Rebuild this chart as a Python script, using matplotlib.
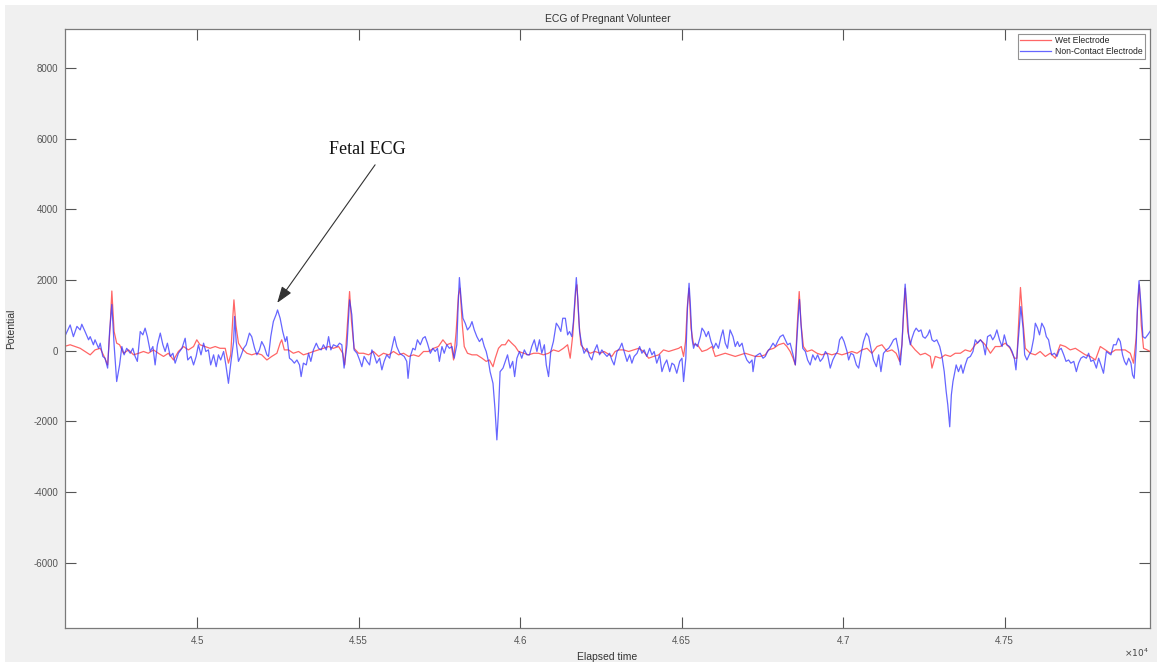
import matplotlib
matplotlib.use("Agg")
import matplotlib.pyplot as plt
from matplotlib.patches import Rectangle

plt.rcParams['axes.unicode_minus'] = False
plt.rcParams['font.family'] = ['Liberation Sans', 'DejaVu Sans']

# ---------------- data ----------------
wet_t = [44588, 44607, 44622, 44638, 44653, 44669, 44684, 44700, 44712, 44723, 44731, 44736, 44743, 44751, 44760,
         44772, 44788, 44803, 44819, 44834, 44849, 44865, 44880, 44896, 44911, 44927, 44942, 44958, 44973, 44989,
         44999, 45009, 45025, 45040, 45056, 45071, 45087, 45097, 45104, 45111, 45114, 45120, 45128, 45138, 45154,
         45169, 45185, 45200, 45216, 45231, 45247, 45257, 45262, 45270, 45283, 45298, 45314, 45329, 45345, 45360,
         45376, 45391, 45407, 45422,
         45438, 45451, 45457, 45466, 45472, 45478, 45486, 45500, 45515, 45531, 45546, 45562, 45577, 45593, 45608,
         45624, 45639, 45655, 45670, 45686, 45701, 45716, 45732, 45747, 45761, 45773, 45786, 45794, 45802, 45809,
         45814, 45821, 45827, 45837, 45851, 45866, 45882, 45895, 45905, 45916, 45923, 45933, 45943, 45954, 45964,
         45974, 45985, 45995, 46011, 46026, 46042, 46057, 46072, 46088, 46103, 46119, 46134, 46147, 46155, 46163,
         46172, 46176, 46182, 46188, 46201, 46217, 46232, 46248, 46260,
         46269, 46284, 46294, 46305, 46320, 46336, 46351, 46367, 46382, 46398, 46413, 46429, 46444, 46460, 46475,
         46491, 46499, 46506, 46512, 46518, 46523, 46529, 46537, 46549, 46563, 46578, 46594, 46604, 46620, 46635,
         46650, 46666, 46681, 46697, 46712, 46728, 46743, 46759, 46769, 46785, 46800, 46816, 46826, 46836, 46845,
         46852, 46858, 46864, 46870, 46877, 46888, 46903, 46919, 46934, 46950, 46965, 46981, 46996, 47012, 47027,
         47043, 47058, 47074, 47089,
         47105, 47120, 47136, 47151, 47164, 47175, 47182, 47187, 47192, 47200, 47210, 47223, 47239, 47254, 47270,
         47275, 47285, 47301, 47316, 47332, 47347, 47363, 47378, 47394, 47409, 47425, 47440, 47456, 47471, 47486,
         47502, 47517, 47530, 47538, 47544, 47549, 47556, 47564, 47579, 47595, 47610, 47626, 47641, 47657, 47672,
         47688, 47703, 47719, 47734, 47750, 47765, 47781, 47796, 47812, 47827, 47843, 47858, 47873, 47889, 47899,
         47907, 47913, 47917, 47923, 47930, 47941, 47951]
wet_v = [120, 170, 120, 70, -20, -115, 25, 70, -160, -400, 730, 1690, 545, 215, 170,
         -70, 25, -115, -70, -20, -70, 25, -70, -160, -70, -260, -20, 120, 25, 120,
         310, 170, 120, 70, 120, 70, 70, -350, -115, 1015, 1440, 730, 215, 70, -70,
         -115, -70, -115, -260, -160, -70, 215, 310, 25, 25, -70, -20, -115, -70, -20,
         25, 70, 120, 70,
         120, -70, -400, 825, 1675, 825, 70, -70, -70, -115, -20, -160, -70, -115, -20,
         -115, -70, -160, -115, -160, -20, -20, 70, 120, 310, 170, 215, -260, 545, 1580,
         1770, 730, 120, -70, -115, -115, -210, -300, -260, -450, -210, 70, 170, 170, 310,
         215, 120, -20, -70, -115, -70, -70, -115, -70, 25, -20, 70, 170, -210, 450,
         1675, 1865, 825, 170, 25, -70, -20, -70, -20,
         -70, -160, -20, 25, 25, -20, 25, 70, -20, -210, -160, -115, 25, -20, 25,
         70, 120, -160, 260, 1300, 1770, 640, 170, 170, -20, 25, 120, -160, -115, -70,
         -115, -160, -115, -70, -115, -160, -160, -115, 25, 70, 170, 215, 120, -20, -210,
         -400, 730, 1675, 730, 120, -20, 25, -70, -115, -70, -115, -70, -115, -70, -20,
         -70, 25, 70, -70,
         120, 170, -20, 25, -70, -300, 170, 1015, 1770, 545, 170, 25, -115, -70, -160,
         -490, -160, -210, -115, -160, -70, -70, 25, -20, 170, 310, 170, -70, 120, 120,
         215, 70, -210, -210, 920, 1790, 920, 70, -70, -115, -20, -160, -70, -210, 170,
         120, 25, 70, -20, -115, -160, -260, 120, 25, -70, 25, 25, 25, -70, -350,
         355, 1485, 1865, 730, 70, 25, -20]

noncontact_t = [44585, 44607, 44617, 44628, 44638, 44643, 44653, 44664, 44669, 44679, 44684, 44695, 44700, 44708,
                44715, 44723, 44729, 44736, 44743, 44751, 44760, 44767, 44774, 44782, 44793, 44801, 44808, 44815,
                44824, 44832, 44839, 44846, 44855, 44863, 44870, 44877, 44886, 44894, 44901, 44908, 44917, 44925,
                44932, 44942, 44953, 44963, 44971, 44981, 44989, 44997, 45004, 45012, 45020, 45027, 45035, 45042,
                45051, 45059, 45066, 45073, 45082, 45089, 45097, 45105, 45113, 45116, 45121, 45128, 45135, 45144,
                45152, 45162, 45169, 45178, 45185, 45193, 45200, 45208, 45216, 45221, 45228, 45236, 45245, 45249,
                45257, 45265, 45273, 45278, 45286, 45293, 45301, 45309, 45317, 45322, 45329, 45338, 45345, 45352,
                45360, 45369, 45376, 45384, 45391, 45400, 45407, 45414, 45422,
                45433, 45441, 45448, 45455, 45464, 45472, 45479, 45486, 45495, 45503, 45510, 45517, 45526, 45534,
                45541, 45548, 45556, 45565, 45572, 45579, 45587, 45596, 45604, 45611, 45618, 45627, 45634, 45641,
                45649, 45653, 45660, 45668, 45675, 45682, 45691, 45699, 45706, 45713, 45722, 45730, 45737, 45744,
                45750, 45758, 45765, 45773, 45781, 45789, 45796, 45804, 45808, 45812, 45818, 45823, 45830, 45837,
                45845, 45851, 45858, 45866, 45874, 45882, 45889, 45895, 45902, 45907, 45916, 45922, 45928, 45933,
                45938, 45947, 45954, 45961, 45969, 45977, 45983, 45990, 45998, 46005, 46013, 46021, 46029, 46036,
                46044, 46052, 46060, 46067, 46075, 46081, 46088, 46095, 46103, 46112, 46119, 46126, 46132, 46140,
                46147, 46153, 46160, 46165, 46171, 46174, 46179, 46184, 46191, 46198, 46207, 46215, 46222, 46229,
                46238, 46246, 46253, 46260,
                46269, 46277, 46284, 46291, 46300, 46308, 46315, 46322, 46331, 46339, 46346, 46353, 46362, 46370,
                46377, 46384, 46392, 46401, 46408, 46415, 46423, 46432, 46439, 46446, 46454, 46463, 46470, 46477,
                46485, 46494, 46501, 46506, 46513, 46518, 46523, 46527, 46532, 46537, 46542, 46549, 46558, 46563,
                46570, 46576, 46583, 46591, 46599, 46606, 46614, 46622, 46628, 46635, 46642, 46650, 46659, 46666,
                46673, 46679, 46687, 46694, 46702, 46710, 46718, 46721, 46728, 46735, 46743, 46752, 46759, 46766,
                46774, 46783, 46790, 46797, 46805, 46814, 46821, 46828, 46836, 46845, 46852, 46857, 46862, 46865,
                46869, 46875, 46883, 46890, 46898, 46906, 46914, 46921, 46929, 46937, 46945, 46952, 46960, 46968,
                46976, 46983, 46989, 46996, 47003, 47012, 47017, 47024, 47032, 47041, 47048, 47055, 47063, 47072,
                47079, 47086, 47094,
                47103, 47110, 47117, 47125, 47134, 47141, 47148, 47156, 47164, 47172, 47177, 47182, 47187, 47192,
                47198, 47203, 47208, 47213, 47220, 47226, 47234, 47241, 47247, 47254, 47262, 47268, 47275, 47282,
                47290, 47299, 47306, 47313, 47319, 47324, 47330, 47335, 47340, 47345, 47350, 47357, 47365, 47371,
                47378, 47385, 47394, 47402, 47409, 47416, 47425, 47433, 47440, 47447, 47456, 47463, 47469, 47476,
                47484, 47492, 47499, 47507, 47515, 47523, 47530, 47535, 47540, 47546, 47550, 47557, 47562, 47569,
                47576, 47582, 47590, 47595, 47602, 47608, 47615, 47623, 47629, 47636, 47641, 47646, 47654, 47662,
                47669, 47675, 47683, 47690, 47698, 47705, 47714, 47722, 47729, 47736, 47744, 47753, 47760, 47767,
                47775, 47784, 47791, 47798, 47806, 47815, 47822, 47829, 47837, 47845, 47852, 47858, 47865, 47871,
                47877, 47884, 47891, 47896, 47901, 47907, 47911, 47916, 47922, 47928, 47935, 47943, 47951]
noncontact_v = [300, 730, 400, 690, 590, 750, 545, 310, 400, 170, 310, 70, 215, -160,
                -210, -490, 545, 1310, 170, -870, -400, 120, -115, 70, -70, 70, -160, -300,
                545, 450, 640, 400, -20, 120, -400, 170, 500, 170, -20, 215, -160, -70,
                -350, -70, 70, 355, -260, -160, -400, -160, 170, -115, 215, -20, 25, -400,
                -115, -450, -115, -260, -20, -400, -920, -300, 260, 970, 260, -300, -160, 70,
                170, 500, 400, 70, -115, 25, 260, 120, -115, -160, 400, 825, 1035, 1155,
                920, 545, 260, 400, -210, -260, -350, -260, -400, -730, -350, -400, -70, -300,
                25, 215, 70, 25, 170, 25, 400, 25, 170,
                120, 215, 170, -490, 170, 1440, 1015, 25, -70, -260, -450, -160, -300, -400,
                25, -115, -350, -210, -540, -300, -115, -210, 120, 400, 120, -70, -115, -160,
                -300, -780, -160, 70, 25, 310, 170, 355, 400, 215, -70, 70, -20, 70,
                -300, 120, -70, 170, 70, 120, -210, 170, 1250, 2070, 1390, 920, 780, 590,
                685, 825, 590, 400, 260, 355, 120, -20, -300, -590, -920, -1625, -2520, -1720,
                -590, -490, -300, -115, -490, -300, -730, -210, -20, -210, 25, -115, -115, 120,
                310, -20, 310, -70, 170, -400, -730, -20, 260, 780, 685, 545, 920, 920,
                450, 545, 400, 825, 1675, 2070, 1390, 545, 170, -70, 70, -160, -260, -20,
                170, -115, 25, -70,
                -160, -70, -260, -400, -20, 70, 215, -20, -300, -115, -350, -160, -70, 120,
                -70, 25, -160, 70, -115, -20, -350, -115, -590, -400, -260, -590, -350, -400,
                -635, -300, -210, -870, -210, 1200, 1910, 1300, 355, 70, 215, 120, 400, 640,
                545, 400, 545, 260, 70, 215, 70, 400, 590, 215, 70, 590, 400, 120,
                260, 120, 215, -70, -260, -350, -260, -590, -160, -115, -70, -210, -160, -20,
                70, 215, 120, 260, 400, 450, 310, 170, 215, -115, -400, 355, 1110, 1450,
                825, 70, -20, -260, -400, -115, -260, -115, -300, -210, -20, -115, -490, -260,
                -115, -20, 310, 400, 260, -20, -260, -70, -115, -400, -490, -115, 260, 500,
                400, 70, -260,
                -450, -115, -590, -70, 25, 70, 170, 310, 355, -20, -400, 170, 1110, 1885,
                1110, 400, 170, 355, 545, 640, 545, 590, 400, 355, 450, 590, 310, 260,
                310, 120, -160, -590, -1150, -1530, -2150, -1250, -870, -635, -400, -590, -400, -635,
                -400, -210, -160, -20, 310, 215, 310, 215, -115, 400, 450, 310, 400, 590,
                310, 120, 450, 170, 120, -20, -210, -540, 70, 730, 1250, 640, -115, -260,
                -115, -20, 355, 780, 640, 450, 780, 640, 400, 310, 70, -115, -70, -160,
                25, 70, -115, -300, -260, -350, -300, -590, -350, -210, -160, -210, -70, -300,
                -260, -490, -210, -400, -635, -20, -70, -115, 170, 170, 355, 260, -115, -300,
                -400, -210, -350, -685, -780, 70, 1200, 1980, 1300, 400, 355, 450, 560]

series_labels = ['Wet Electrode', 'Non-Contact Electrode']
xtick_values = [45000, 45500, 46000, 46500, 47000, 47500]
xtick_labels = ['4.5', '4.55', '4.6', '4.65', '4.7', '4.75']
ytick_values = [-6000, -4000, -2000, 0, 2000, 4000, 6000, 8000]
ytick_labels = ['-6000', '-4000', '-2000', '0', '2000', '4000', '6000', '8000']
title_text = 'ECG of Pregnant Volunteer'
xlabel_text = 'Elapsed time'
ylabel_text = 'Potential'
annotation_text = 'Fetal ECG'
annotation_point = (45248, 1355)
annotation_tail = (45551, 5259)
annotation_text_pos = (45526, 5683)

# ---------------- figure ----------------
W, H = 1162, 666
fig = plt.figure(figsize=(W / 100, H / 100), dpi=100, facecolor='white')
fig.patches.append(Rectangle((5 / W, 4 / H), (W - 10) / W, (H - 9) / H,
                             transform=fig.transFigure, facecolor='#f0f0f0',
                             edgecolor='none', zorder=-10))

ax = fig.add_axes([65 / W, (H - 628) / H, (1150 - 65) / W, (628 - 29) / H])
ax.set_facecolor('white')

ax.plot(wet_t, wet_v, color=(1.0, 0.2, 0.2), alpha=0.75, lw=0.9, label=series_labels[0])
ax.plot(noncontact_t, noncontact_v, color=(0.2, 0.2, 1.0), alpha=0.75, lw=0.9, label=series_labels[1])

ax.set_xlim(44591, 47950)
ax.set_ylim(-7840, 9100)

ax.set_xticks(xtick_values)
ax.set_xticklabels(xtick_labels)
ax.set_yticks(ytick_values)
ax.set_yticklabels(ytick_labels)

axis_col = '#555555'
for s in ax.spines.values():
    s.set_color('#7a7a7a')
    s.set_linewidth(0.9)
ax.tick_params(direction='in', length=8, width=0.8, colors=axis_col, labelsize=7,
               top=True, right=True, pad=6)
ax.tick_params(axis='y', pad=5)

ax.set_title(title_text, fontsize=7.5, color='#333333', pad=5)
ax.set_xlabel(xlabel_text, fontsize=7.5, color='#333333', labelpad=4)
ax.set_ylabel(ylabel_text, fontsize=7.5, color='#333333', labelpad=12)
ax.text(0.999, -0.042, r'$\times10^4$', transform=ax.transAxes, ha='right', va='center',
        fontsize=6.5, color='#444444')

leg = ax.legend(loc='upper right', fontsize=6.2, frameon=True, fancybox=False,
                borderpad=0.3, handlelength=3.6, handletextpad=0.4, labelspacing=0.2,
                borderaxespad=0.55)
leg.get_frame().set_edgecolor('#777777')
leg.get_frame().set_linewidth(0.8)
for txt in leg.get_texts():
    txt.set_color('#222222')

ax.text(*annotation_text_pos, annotation_text, ha='center', va='center', fontsize=13,
        family=['Liberation Serif', 'DejaVu Serif'], color='#111111')
ax.annotate('', xy=annotation_point, xytext=annotation_tail,
            arrowprops=dict(arrowstyle='-|>,head_length=1.0,head_width=0.35', color='#333333',
                            lw=0.8, shrinkA=0, shrinkB=0))

fig.savefig('out.png', dpi=100, facecolor=fig.get_facecolor())
